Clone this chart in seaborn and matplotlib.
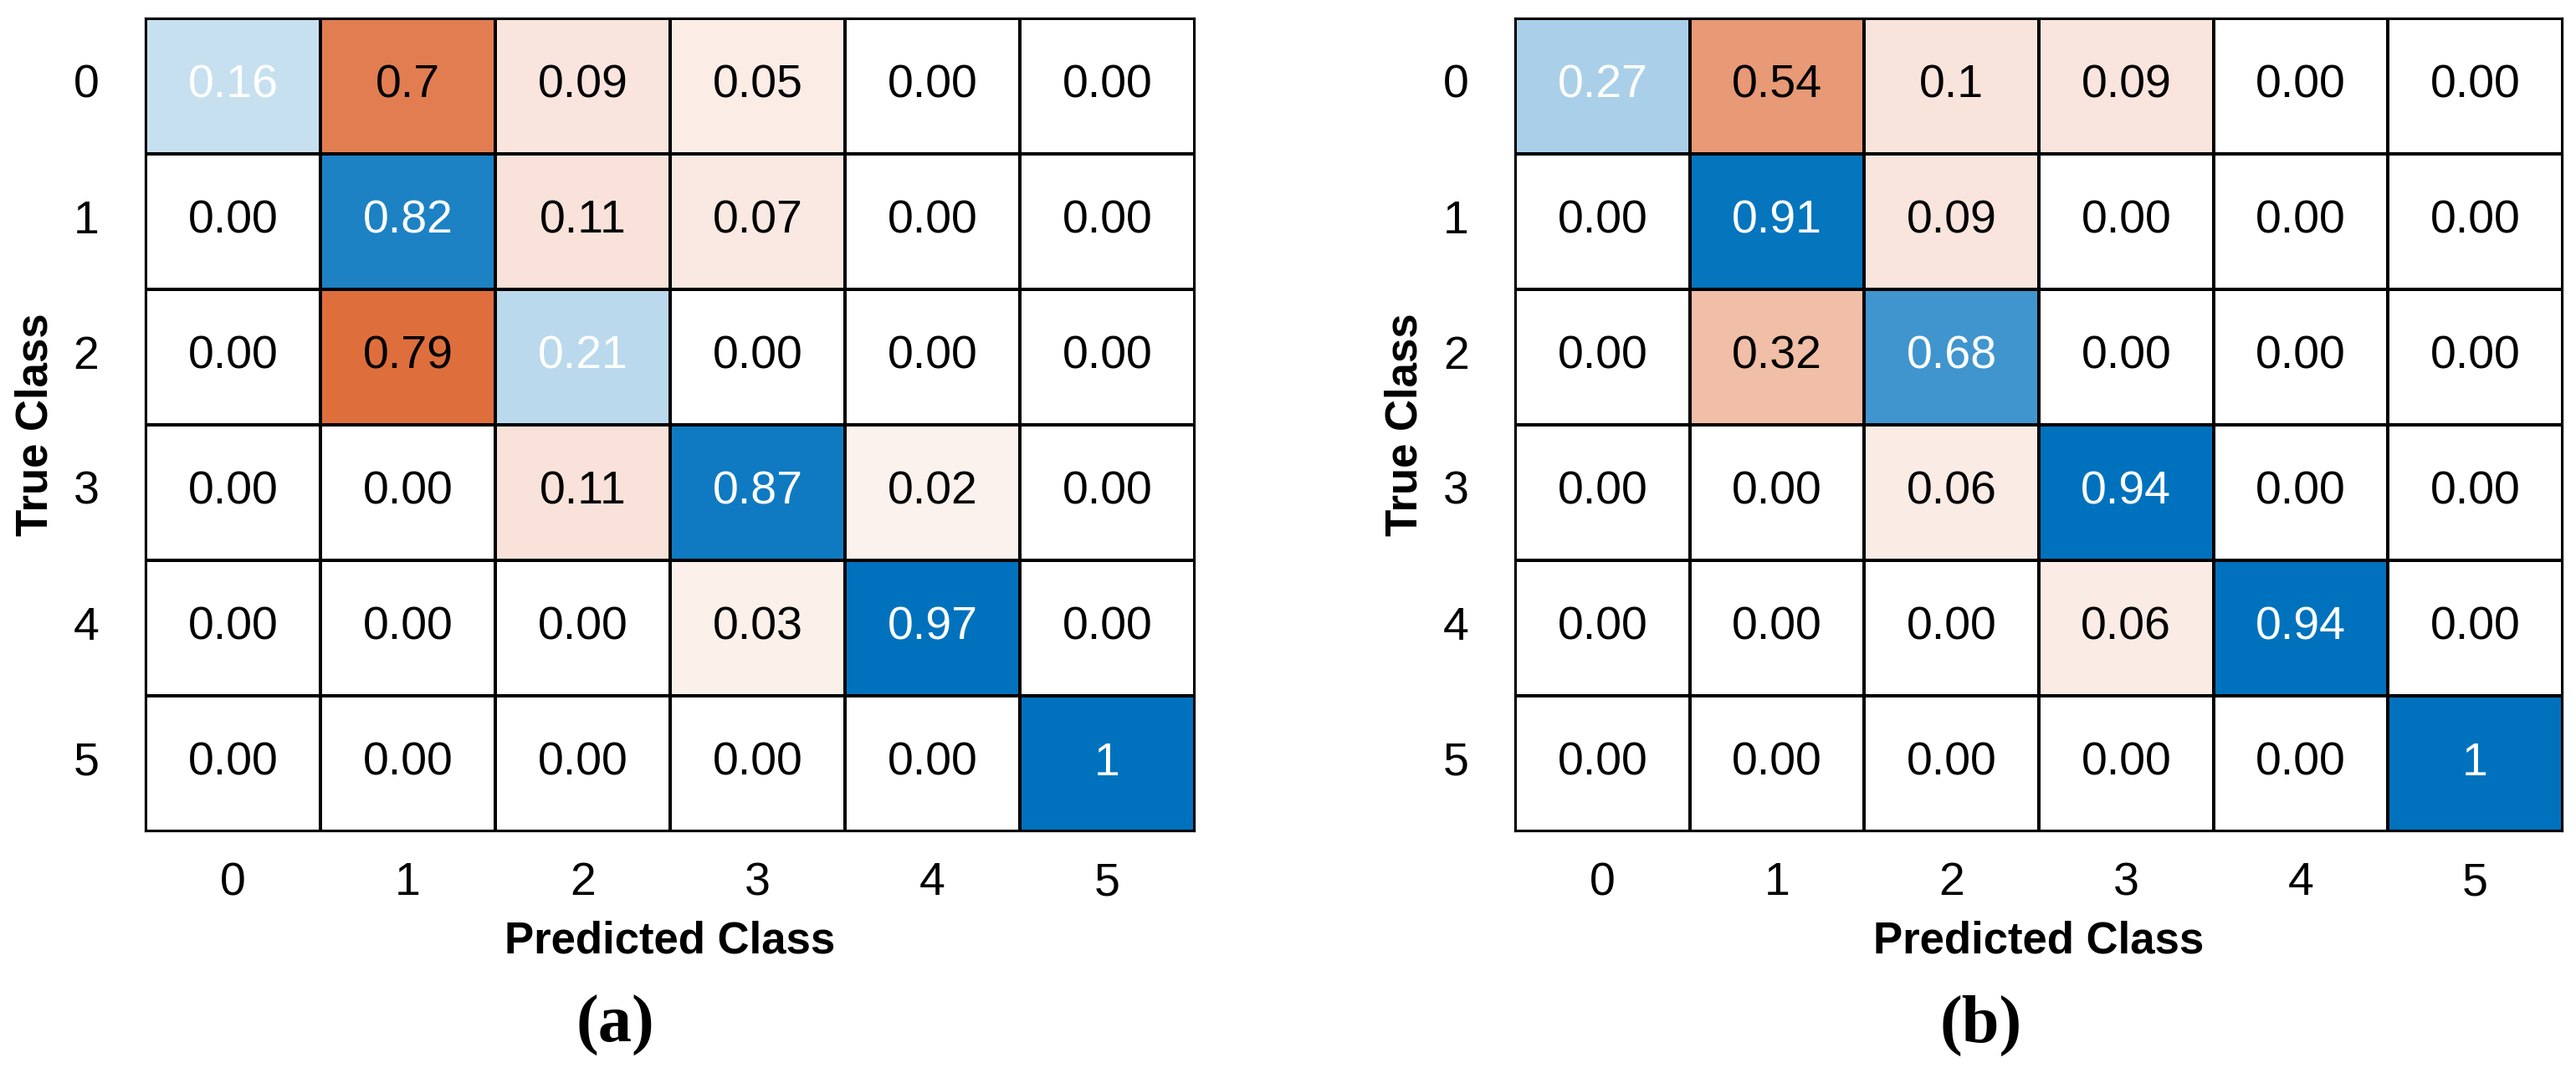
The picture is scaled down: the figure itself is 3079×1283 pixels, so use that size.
import numpy as np
import matplotlib
matplotlib.use("Agg")
import matplotlib.pyplot as plt
from matplotlib.colors import LinearSegmentedColormap, ListedColormap, to_rgb
import seaborn as sns

# class labels
classes = ["0", "1", "2", "3", "4", "5"]

# row-normalised confusion matrices
cm_a = np.array([
    [0.16, 0.70, 0.09, 0.05, 0.00, 0.00],
    [0.00, 0.82, 0.11, 0.07, 0.00, 0.00],
    [0.00, 0.79, 0.21, 0.00, 0.00, 0.00],
    [0.00, 0.00, 0.11, 0.87, 0.02, 0.00],
    [0.00, 0.00, 0.00, 0.03, 0.97, 0.00],
    [0.00, 0.00, 0.00, 0.00, 0.00, 1.00],
])
cm_b = np.array([
    [0.27, 0.54, 0.10, 0.09, 0.00, 0.00],
    [0.00, 0.91, 0.09, 0.00, 0.00, 0.00],
    [0.00, 0.32, 0.68, 0.00, 0.00, 0.00],
    [0.00, 0.00, 0.06, 0.94, 0.00, 0.00],
    [0.00, 0.00, 0.00, 0.06, 0.94, 0.00],
    [0.00, 0.00, 0.00, 0.00, 0.00, 1.00],
])
panel_tags = ["(a)", "(b)"]

sns.set_theme(style="white")
plt.rcParams["font.family"] = ["Liberation Sans", "DejaVu Sans"]
plt.rcParams["text.color"] = "black"
plt.rcParams["axes.labelcolor"] = "black"
plt.rcParams["xtick.color"] = "black"
plt.rcParams["ytick.color"] = "black"

BLUE = "#0072BD"
ORANGE = "#D95319"


def tinted_cmap(name, base, floor=0.06):
    rgb = np.array(to_rgb(base))
    light = 1 - floor * (1 - rgb)
    return LinearSegmentedColormap.from_list(name, [light, rgb])


blue_cmap = tinted_cmap("diag", BLUE)
orange_cmap = tinted_cmap("off", ORANGE)


def fmt(v):
    return "0.00" if v == 0 else f"{v:g}"


def draw_cm(ax, cm):
    n = cm.shape[0]
    diag = np.eye(n, dtype=bool)
    labels = np.vectorize(fmt)(cm)
    lw = 1.6
    # white base with grid + annotations
    sns.heatmap(np.zeros_like(cm), ax=ax, cmap=ListedColormap(["white"]), cbar=False,
                linewidths=lw, linecolor="black", annot=labels, fmt="",
                annot_kws={"fontsize": 40}, xticklabels=classes, yticklabels=classes)
    sns.heatmap(cm, ax=ax, mask=~diag, cmap=blue_cmap, vmin=0, vmax=0.93, cbar=False,
                linewidths=lw, linecolor="black", xticklabels=classes, yticklabels=classes)
    sns.heatmap(cm, ax=ax, mask=diag | (cm == 0), cmap=orange_cmap, vmin=0, vmax=0.95,
                cbar=False, linewidths=lw, linecolor="black",
                xticklabels=classes, yticklabels=classes)
    # text colour: white on the diagonal, black elsewhere
    for k, t in enumerate(ax.texts):
        i, j = divmod(k, n)
        t.set_color("white" if i == j else "black")
    for s in ax.spines.values():
        s.set_visible(True)
        s.set_color("black")
        s.set_linewidth(1.6)
    ax.tick_params(length=0, labelsize=40, labelcolor="black")
    ax.tick_params(axis="x", pad=26)
    ax.tick_params(axis="y", pad=40)
    plt.setp(ax.get_yticklabels(), rotation=0)
    plt.setp(ax.get_xticklabels(), rotation=0)
    ax.set_xlabel("Predicted Class", fontsize=38, fontweight="bold", va="center", color="black")
    ax.set_ylabel("True Class", fontsize=38, fontweight="bold", va="center", color="black")
    ax.xaxis.set_label_coords(0.5, -0.135)
    ax.yaxis.set_label_coords(-0.105, 0.5)


fig = plt.figure(figsize=(30.79, 12.83), dpi=100)
ax_a = fig.add_axes([0.0565, 0.2253, 0.4073, 0.7576])
ax_b = fig.add_axes([0.5882, 0.2253, 0.4066, 0.7576])
draw_cm(ax_a, cm_a)
draw_cm(ax_b, cm_b)

for x, tag in zip([0.2387, 0.769], panel_tags):
    fig.text(x, 0.044, tag, ha="center", va="center", fontsize=58, color="black",
             fontweight="bold", family=["Liberation Serif", "DejaVu Serif"])

fig.savefig("out.png", dpi=100, facecolor="white")
